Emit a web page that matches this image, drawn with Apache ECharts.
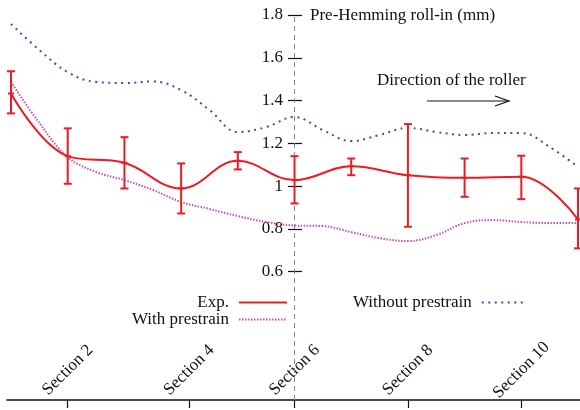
<!DOCTYPE html>
<html>
<head>
<meta charset="utf-8">
<script src="https://cdn.jsdelivr.net/npm/echarts@6/dist/echarts.min.js"></script>
<style>
html,body{margin:0;padding:0;background:#fff;}
#chart{width:580px;height:410px;}
</style>
</head>
<body>
<div id="chart"></div>
<script>
// sections along the flange
var sections = [1, 2, 3, 4, 5, 6, 7, 8, 9, 10, 11];
var expMean = [1.433, 1.14, 1.109, 0.989, 1.118, 1.028, 1.093, 1.051, 1.039, 1.044, 0.844];
var expLow  = [1.34, 1.011, 0.989, 0.872, 1.078, 0.919, 1.051, 0.81, 0.95, 0.939, 0.709];
var expHigh = [1.537, 1.27, 1.229, 1.106, 1.159, 1.14, 1.129, 1.29, 1.129, 1.142, 0.989];

// simulations, read every half section
var simSections = [1, 1.5, 2, 2.5, 3, 3.5, 4, 4.5, 5, 5.5, 6, 6.5, 7, 7.5, 8, 8.5, 9, 9.5, 10, 10.5, 11];
var withPrestrain = [1.487, 1.295, 1.136, 1.066, 1.028, 0.982, 0.926, 0.893, 0.86, 0.832, 0.816,
    0.813, 0.785, 0.757, 0.743, 0.771, 0.827, 0.841, 0.832, 0.827, 0.827];
var withoutPrestrain = [1.758, 1.636, 1.533, 1.487, 1.482, 1.489, 1.449, 1.356, 1.253, 1.276, 1.323,
    1.262, 1.211, 1.239, 1.272, 1.253, 1.239, 1.248, 1.248, 1.183, 1.089];

var xTicks = [2, 4.14, 6, 8, 10];
var yTicks = [0.6, 0.8, 1, 1.2, 1.4, 1.6, 1.8];

var RED = '#ec1c24', PURPLE = '#c253b5', BLUE = '#3553ad', INK = '#111';
var FONT = 'Liberation Serif';

function zip(a, b) {
    var out = [];
    for (var i = 0; i < a.length; i++) out.push([a[i], b[i]]);
    return out;
}

var errData = [];
for (var i = 0; i < sections.length; i++) {
    errData.push([sections[i], expLow[i], expHigh[i], expMean[i]]);
}

var legendText = {fontSize: 17, fontFamily: FONT, color: INK, lineHeight: 17, padding: [0, 5, 0, 0]};

var chart = echarts.init(document.getElementById('chart'));
var option = {
    animation: false,
    textStyle: {fontFamily: FONT},
    grid: {left: 7, right: 0, top: 15, bottom: 10},
    xAxis: {
        type: 'value',
        min: 0.929,
        max: 11.035,
        splitLine: {show: false},
        axisLine: {lineStyle: {color: INK, width: 1.5}},
        axisTick: {length: 8, inside: false, lineStyle: {color: INK, width: 1.2}, customValues: xTicks},
        axisLabel: {
            inside: true,
            rotate: 45,
            margin: 30,
            align: 'center',
            verticalAlign: 'middle',
            color: INK,
            fontSize: 17,
            fontFamily: FONT,
            customValues: xTicks,
            formatter: function (v) { return 'Section ' + Math.round(v); }
        }
    },
    yAxis: {
        type: 'value',
        min: 0,
        max: 1.8,
        offset: -295,
        splitLine: {show: false},
        axisLine: {show: false},
        axisTick: {length: 14, lineStyle: {color: INK, width: 1.2}, customValues: yTicks},
        axisLabel: {
            margin: 19,
            color: INK,
            fontSize: 17,
            fontFamily: FONT,
            customValues: yTicks,
            formatter: function (v) { return String(Math.round(v * 10) / 10); }
        }
    },
    legend: [{
        orient: 'vertical',
        align: 'right',
        right: 292,
        top: 294,
        padding: 0,
        itemWidth: 48,
        itemHeight: 10,
        itemGap: 0,
        itemStyle: {opacity: 0},
        textStyle: legendText,
        data: ['Exp.', 'With prestrain']
    }, {
        orient: 'vertical',
        align: 'right',
        left: 353,
        top: 294,
        padding: 0,
        itemWidth: 44,
        itemHeight: 10,
        itemStyle: {opacity: 0},
        textStyle: legendText,
        data: ['Without prestrain']
    }],
    graphic: [
        {type: 'text', left: 310, top: 7, style: {text: 'Pre-Hemming roll-in (mm)', font: '17px "Liberation Serif"', fill: INK}},
        {type: 'text', left: 377, top: 72, style: {text: 'Direction of the roller', font: '17px "Liberation Serif"', fill: INK}},
        {type: 'line', shape: {x1: 427, y1: 101, x2: 509, y2: 101}, style: {stroke: INK, lineWidth: 1.2}},
        {type: 'polyline', shape: {points: [[495, 96], [509, 101], [495, 106]]}, style: {stroke: INK, lineWidth: 1.2, fill: null}}
    ],
    series: [
        {
            name: 'Exp.',
            type: 'line',
            data: zip(sections, expMean),
            smooth: 0.4,
            symbol: 'none',
            lineStyle: {color: RED, width: 2},
            itemStyle: {color: RED},
            z: 5,
            markLine: {
                silent: true,
                symbol: 'none',
                label: {show: false},
                lineStyle: {color: '#888', type: [5, 4], width: 1},
                data: [{xAxis: 6}]
            }
        },
        {
            name: 'Exp.',
            type: 'custom',
            data: errData,
            z: 6,
            renderItem: function (params, api) {
                var x = api.value(0);
                var lo = api.coord([x, api.value(1)]);
                var hi = api.coord([x, api.value(2)]);
                var mid = api.coord([x, api.value(3)]);
                var c = 4;
                var st = {stroke: RED, lineWidth: 2};
                return {
                    type: 'group',
                    children: [
                        {type: 'line', shape: {x1: lo[0], y1: lo[1], x2: hi[0], y2: hi[1]}, style: st},
                        {type: 'line', shape: {x1: lo[0] - c, y1: lo[1], x2: lo[0] + c, y2: lo[1]}, style: st},
                        {type: 'line', shape: {x1: hi[0] - c, y1: hi[1], x2: hi[0] + c, y2: hi[1]}, style: st},
                        {type: 'line', shape: {x1: mid[0] - 3, y1: mid[1], x2: mid[0] + 3, y2: mid[1]}, style: st}
                    ]
                };
            }
        },
        {
            name: 'With prestrain',
            type: 'line',
            data: zip(simSections, withPrestrain),
            smooth: 0.4,
            symbol: 'none',
            lineStyle: {color: PURPLE, width: 2, type: [1.5, 1.5]},
            itemStyle: {color: PURPLE}
        },
        {
            name: 'Without prestrain',
            type: 'line',
            data: zip(simSections, withoutPrestrain),
            smooth: 0.4,
            symbol: 'none',
            lineStyle: {color: BLUE, width: 2, type: [2, 4.5]},
            itemStyle: {color: BLUE}
        }
    ]
};
chart.setOption(option);
window.onresize = chart.resize;
</script>
</body>
</html>
